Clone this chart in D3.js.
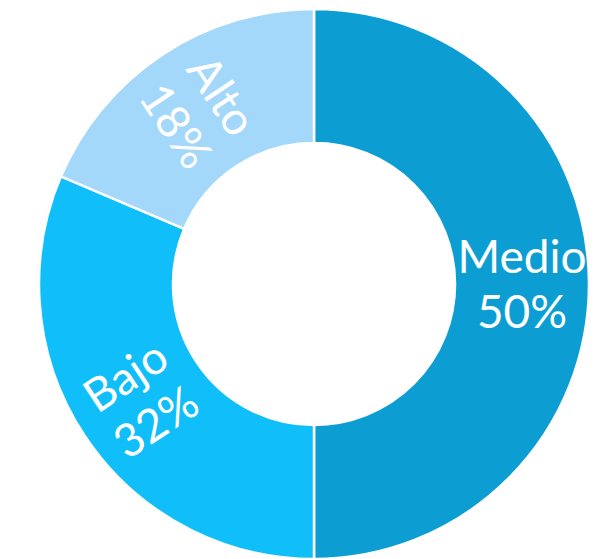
<!DOCTYPE html>
<html><head><meta charset="utf-8">
<script src="https://cdn.jsdelivr.net/npm/d3@7"></script>
<style>html,body{margin:0;padding:0;background:#fff;}</style>
</head><body>
<svg id="chart" width="613" height="559"></svg>
<script>
const categories = ["Medio", "Bajo", "Alto"];
// slice sizes as drawn in the picture
const values = [50, 31.4, 18.6];
// percentage labels as printed in the picture
const percentLabels = ["50%", "32%", "18%"];
const colors = ["#0C9ED3", "#10BEFA", "#A4D8FA"];

const svg = d3.select("#chart");
const cx = 314, cy = 284, R = 275, r = 141;
const g = svg.append("g").attr("transform", `translate(${cx},${cy})`);

const data = categories.map((c, i) => ({cat: c, value: values[i], label: percentLabels[i], color: colors[i]}));
const pie = d3.pie().value(d => d.value).sort(null);
const arc = d3.arc().innerRadius(r).outerRadius(R);
const arcs = pie(data);

g.selectAll("path").data(arcs).join("path")
  .attr("d", arc)
  .attr("fill", d => d.data.color)
  .attr("stroke", "#fff")
  .attr("stroke-width", 2.5);

const fs = 46, lh = 55;
const lbl = g.selectAll("g.lbl").data(arcs).join("g").attr("class", "lbl")
  .attr("transform", d => {
    const [x, y] = arc.centroid(d);
    const a = (d.startAngle + d.endAngle) / 2 * 180 / Math.PI;
    let rot = a - 270;
    while (rot <= -90) rot += 180;
    while (rot > 90) rot -= 180;
    return `translate(${x},${y}) rotate(${rot})`;
  });
lbl.append("text")
  .attr("text-anchor", "middle")
  .attr("font-family", "Lato, 'Open Sans', sans-serif")
  .attr("font-size", fs)
  .attr("fill", "#fff")
  .each(function(d) {
    const t = d3.select(this);
    t.append("tspan").attr("x", 0).attr("y", -lh / 2 + fs * 0.36).text(d.data.cat);
    t.append("tspan").attr("x", 0).attr("y", lh / 2 + fs * 0.36).text(d.data.label);
  });
</script>
</body></html>
